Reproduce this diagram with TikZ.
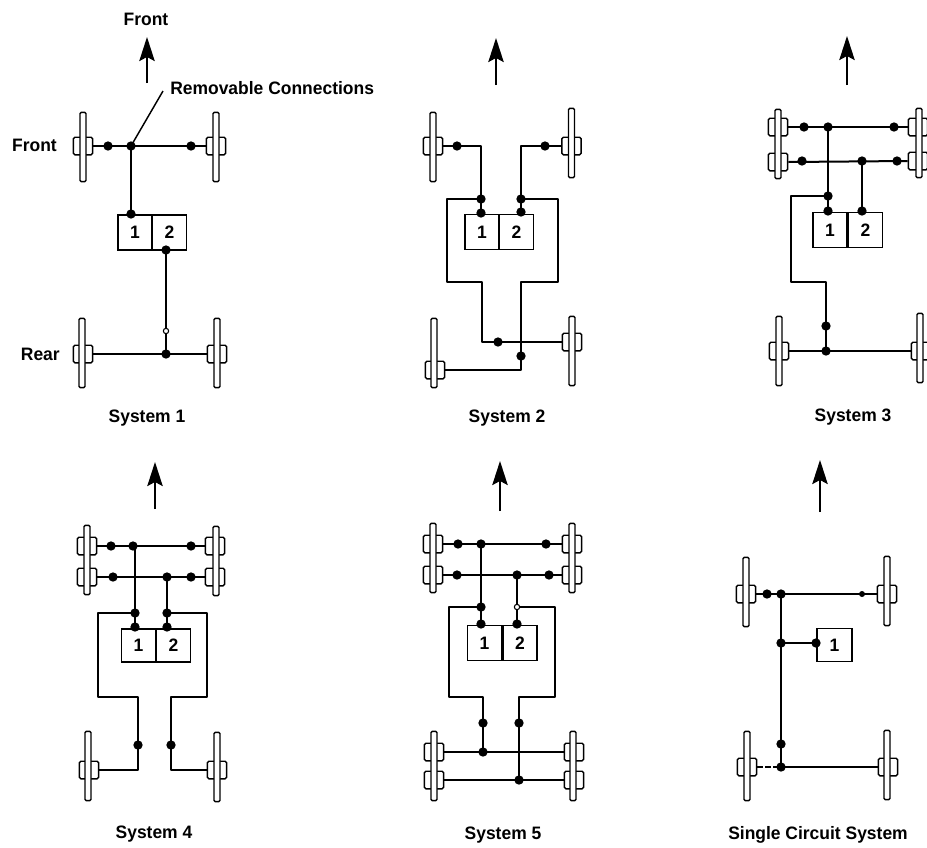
\documentclass[tikz,border=0pt]{standalone}
\usepackage{fontspec}
\setmainfont{Liberation Sans}[FakeStretch=0.97]
\usetikzlibrary{arrows.meta}
\tikzset{
  x=0.75pt,y=-0.75pt,
  tyre/.style={draw,fill=white,line width=1.05pt,inner sep=0,minimum width=4.5pt,minimum height=52pt,rounded corners=1pt},
  hubb/.style={draw,fill=white,line width=1.05pt,inner sep=0,minimum width=14.5pt,minimum height=13.2pt,rounded corners=1.2pt},
  jn/.style={circle,fill=black,inner sep=0,minimum size=7pt},
  openjn/.style={circle,draw,fill=white,line width=0.8pt,inner sep=0,minimum size=4pt},
  cell/.style={draw,line width=1.2pt,inner sep=0,minimum width=25.5pt,minimum height=26pt,font=\bfseries\fontsize{13.5}{15}\selectfont},
  pipe/.style={line width=1.5pt,line join=round},
  dir/.style={line width=1.7pt,-{Stealth[length=18pt,width=11.5pt,inset=3pt]}},
  lbl/.style={inner sep=0,font=\bfseries\fontsize{13.5}{15}\selectfont}
}
\newcommand{\jn}[3]{\node[jn] (#1) at (#2,#3) {};}
\newcommand{\wheel}[3]{\node[hubb] (#1) at (#2,#3) {};}
\newcommand{\tyrebar}[3]{\node[tyre] (#1) at (#2,#3) {};}
\begin{document}
\begin{tikzpicture}
\useasboundingbox (0,0) rectangle (927,847);
\fill[white] (0,0) rectangle (927,847);
% ---------- System 1
\node[lbl] (t1) at (146,19) {Front};
\coordinate (a1b) at (147,83); \coordinate (a1t) at (147,37);
\draw[dir] (a1b) -- (a1t);
\node[lbl,anchor=west] (rc) at (170,88) {Removable Connections};
\node[lbl,anchor=east] (lfront) at (57,145) {Front};
\node[lbl,anchor=east] (lrear) at (60,354) {Rear};
\node[lbl] (c1) at (147,418) {System 1};
\wheel{s1lf}{83}{146}\tyrebar{s1lft}{83}{147}
\wheel{s1rf}{216}{146}\tyrebar{s1rft}{216}{147}
\wheel{s1lr}{83}{354}\tyrebar{s1lrt}{82}{353}
\wheel{s1rr}{217}{354}\tyrebar{s1rrt}{217}{353}
\node[cell] (s1a) at (135,232.5) {1};
\node[cell] (s1b) at (169.5,232.5) {2};
\jn{s1j1}{108}{146}\jn{s1j2}{131}{146}\jn{s1j3}{191}{146}
\jn{s1j4}{131}{214}\jn{s1j5}{166}{250}\jn{s1j6}{166}{354}
\node[openjn] (s1o) at (166,331) {};
\draw[pipe] (s1lf.east) -- (s1rf.west);
\draw[pipe] (s1j2.center) -- (s1j4.center);
\draw[pipe] (s1j5.center) -- (s1o) -- (s1j6.center);
\draw[pipe] (s1lr.east) -- (s1rr.west);
\coordinate (rcl) at (163,91);
\draw[line width=1.1pt] (rcl) -- (s1j2.center);
% ---------- System 2
\node[lbl] (c2) at (507,418) {System 2};
\coordinate (a2b) at (496,85); \coordinate (a2t) at (496,38);
\draw[dir] (a2b) -- (a2t);
\wheel{s2lf}{433}{146}\tyrebar{s2lft}{433}{147}
\wheel{s2rf}{571.5}{146}\tyrebar{s2rft}{571.5}{143}
\wheel{s2lr}{435}{370}\tyrebar{s2lrt}{434}{353}
\wheel{s2rr}{572}{342}\tyrebar{s2rrt}{572}{351}
\node[cell] (s2a) at (482,232) {1};
\node[cell] (s2b) at (516.5,232) {2};
\jn{s2j1}{457}{146}\jn{s2j2}{481}{199}\jn{s2j3}{481}{213}
\jn{s2j4}{545}{146}\jn{s2j5}{521}{199}\jn{s2j6}{521}{212}
\jn{s2j7}{498}{342}\jn{s2j8}{521}{356}
\coordinate (s2p1) at (481,146); \coordinate (s2p2) at (521,146);
\coordinate (s2p3) at (447,199); \coordinate (s2p4) at (447,282);
\coordinate (s2p5) at (482,282); \coordinate (s2p6) at (482,342);
\coordinate (s2p7) at (558,199); \coordinate (s2p8) at (558,282);
\coordinate (s2p9) at (521,282); \coordinate (s2p10) at (521,370);
\draw[pipe] (s2lf.east) -- (s2p1) -- (s2j3.center);
\draw[pipe] (s2rf.west) -- (s2p2) -- (s2j6.center);
\draw[pipe] (s2j2.center) -- (s2p3) -- (s2p4) -- (s2p5) -- (s2p6) -- (s2rr.west);
\draw[pipe] (s2j5.center) -- (s2p7) -- (s2p8) -- (s2p9) -- (s2p10) -- (s2lr.east);
% ---------- System 3
\node[lbl] (c3) at (853,417) {System 3};
\coordinate (a3b) at (847,85); \coordinate (a3t) at (847,36);
\draw[dir] (a3b) -- (a3t);
\wheel{s3lf}{778}{127}\wheel{s3lg}{778}{162}\tyrebar{s3lft}{778}{144}
\wheel{s3rf}{918}{127}\wheel{s3rg}{918}{161}\tyrebar{s3rft}{919}{143}
\wheel{s3lr}{779}{351}\tyrebar{s3lrt}{779}{351}
\wheel{s3rr}{921}{351}\tyrebar{s3rrt}{920}{348}
\node[cell] (s3a) at (830,230) {1};
\node[cell] (s3b) at (865.5,230) {2};
\jn{s3j1}{804}{127}\jn{s3j2}{828}{127}\jn{s3j3}{894}{127}
\jn{s3j4}{802}{161}\jn{s3j5}{862}{161}\jn{s3j6}{897}{161}
\jn{s3j7}{828}{196}\jn{s3j8}{828}{211}\jn{s3j9}{862}{211}
\jn{s3j10}{826}{326}\jn{s3j11}{826}{351}
\coordinate (s3p1) at (791,196); \coordinate (s3p2) at (791,282); \coordinate (s3p3) at (826,282);
\draw[pipe] (s3lf.east) -- (s3rf.west);
\draw[pipe] (s3lg.east) -- (s3rg.west);
\draw[pipe] (s3j2.center) -- (s3j8.center);
\draw[pipe] (s3j5.center) -- (s3j9.center);
\draw[pipe] (s3j7.center) -- (s3p1) -- (s3p2) -- (s3p3) -- (s3j11.center);
\draw[pipe] (s3lr.east) -- (s3rr.west);
% ---------- System 4
\node[lbl] (c4) at (154,834) {System 4};
\coordinate (a4b) at (155,509); \coordinate (a4t) at (155,462);
\draw[dir] (a4b) -- (a4t);
\wheel{s4lf}{87}{546}\wheel{s4lg}{87}{577}\tyrebar{s4lft}{87}{560}
\wheel{s4rf}{215}{546}\wheel{s4rg}{215}{577}\tyrebar{s4rft}{216}{561}
\wheel{s4lr}{89}{770}\tyrebar{s4lrt}{88}{766}
\wheel{s4rr}{217}{770}\tyrebar{s4rrt}{217}{767}
\node[cell,minimum height=24.5pt] (s4a) at (138.5,645.5) {1};
\node[cell,minimum height=24.5pt] (s4b) at (173.5,645.5) {2};
\jn{s4j1}{111}{546}\jn{s4j2}{133}{546}\jn{s4j3}{191}{546}
\jn{s4j4}{113}{577}\jn{s4j5}{167}{577}\jn{s4j6}{191}{577}
\jn{s4j7}{135}{613}\jn{s4j8}{135}{627}\jn{s4j9}{167}{613}\jn{s4j10}{167}{627}
\jn{s4j11}{138}{745}\jn{s4j12}{171}{745}
\coordinate (s4p0) at (135,546);
\coordinate (s4p1) at (98,613); \coordinate (s4p2) at (98,697); \coordinate (s4p3) at (138,697); \coordinate (s4p4) at (138,770);
\coordinate (s4q1) at (207,613); \coordinate (s4q2) at (207,697); \coordinate (s4q3) at (171,697); \coordinate (s4q4) at (171,770);
\draw[pipe] (s4lf.east) -- (s4rf.west);
\draw[pipe] (s4lg.east) -- (s4rg.west);
\draw[pipe] (s4p0) -- (s4j8.center);
\draw[pipe] (s4j5.center) -- (s4j10.center);
\draw[pipe] (s4j7.center) -- (s4p1) -- (s4p2) -- (s4p3) -- (s4p4) -- (s4lr.east);
\draw[pipe] (s4j9.center) -- (s4q1) -- (s4q2) -- (s4q3) -- (s4q4) -- (s4rr.west);
% ---------- System 5
\node[lbl] (c5) at (503,835) {System 5};
\coordinate (a5b) at (500,511); \coordinate (a5t) at (500,461);
\draw[dir] (a5b) -- (a5t);
\wheel{s5lf}{433}{544}\wheel{s5lg}{433}{575}\tyrebar{s5lft}{433}{558}
\wheel{s5rf}{572}{544}\wheel{s5rg}{572}{575}\tyrebar{s5rft}{572}{558}
\wheel{s5lr}{434}{752}\wheel{s5ls}{434}{780}\tyrebar{s5lrt}{434}{766}
\wheel{s5rr}{574}{752}\wheel{s5rs}{574}{780}\tyrebar{s5rrt}{573}{766}
\node[cell] (s5a) at (484.5,643) {1};
\node[cell] (s5b) at (520,643) {2};
\jn{s5j1}{458}{544}\jn{s5j2}{481}{544}\jn{s5j3}{546}{544}
\jn{s5j4}{457}{575}\jn{s5j5}{517}{575}\jn{s5j6}{549}{575}
\jn{s5j7}{481}{607}\jn{s5j8}{481}{624}\jn{s5j9}{517}{624}
\jn{s5j10}{483}{723}\jn{s5j11}{519}{723}\jn{s5j12}{483}{752}\jn{s5j13}{519}{780}
\node[openjn] (s5o) at (517,607) {};
\coordinate (s5p1) at (449,607); \coordinate (s5p2) at (449,697); \coordinate (s5p3) at (483,697);
\coordinate (s5q1) at (555,607); \coordinate (s5q2) at (555,697); \coordinate (s5q3) at (519,697);
\draw[pipe] (s5lf.east) -- (s5rf.west);
\draw[pipe] (s5lg.east) -- (s5rg.west);
\draw[pipe] (s5lr.east) -- (s5rr.west);
\draw[pipe] (s5ls.east) -- (s5rs.west);
\draw[pipe] (s5j2.center) -- (s5j8.center);
\draw[pipe] (s5j5.center) -- (s5o) -- (s5j9.center);
\draw[pipe] (s5j7.center) -- (s5p1) -- (s5p2) -- (s5p3) -- (s5j12.center);
\draw[pipe] (s5o) -- (s5q1) -- (s5q2) -- (s5q3) -- (s5j13.center);
% ---------- Single circuit
\node[lbl] (c6) at (818,835) {Single Circuit System};
\coordinate (a6b) at (820,512); \coordinate (a6t) at (820,460);
\draw[dir] (a6b) -- (a6t);
\wheel{s6lf}{746}{594}\tyrebar{s6lft}{746}{592}
\wheel{s6rf}{887}{594}\tyrebar{s6rft}{887}{591}
\wheel{s6lr}{747}{767}\tyrebar{s6lrt}{747}{766}
\wheel{s6rr}{888}{767}\tyrebar{s6rrt}{887}{765}
\node[cell,minimum width=26pt,minimum height=24.5pt] (s6a) at (834.5,645) {1};
\jn{s6j1}{767}{594}\jn{s6j2}{781}{594}\node[jn,minimum size=4.5pt] (s6j3) at (862,594) {};
\jn{s6j4}{781}{643}\jn{s6j5}{816}{643}\jn{s6j6}{781}{744}\jn{s6j7}{781}{767}
\draw[pipe] (s6lf.east) -- (s6rf.west);
\draw[pipe] (s6j2.center) -- (s6j7.center);
\draw[pipe] (s6j4.center) -- (s6j5.center);
\draw[pipe] (s6j7.center) -- (s6rr.west);
\draw[pipe,dash pattern=on 4pt off 2pt] (s6lr.east) -- (s6j7.center);
\end{tikzpicture}
\end{document}
